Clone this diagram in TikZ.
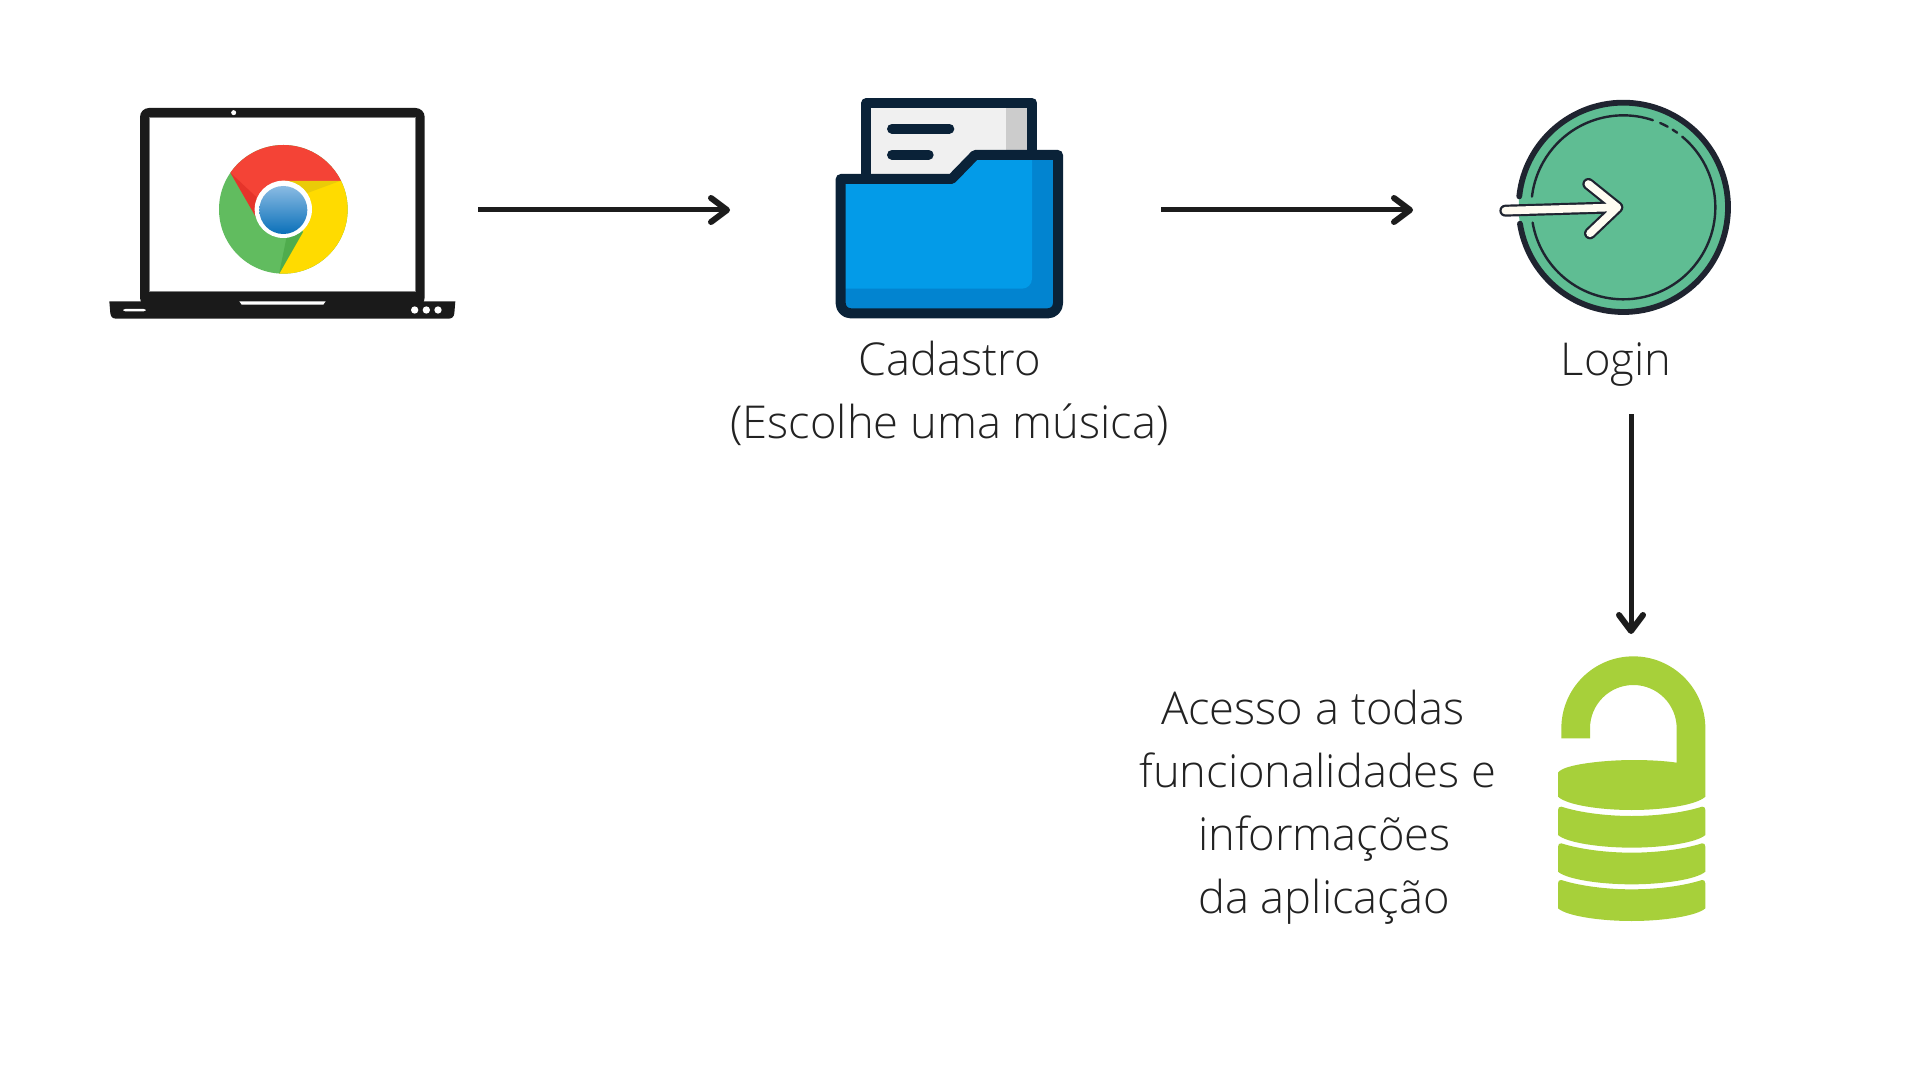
\documentclass[tikz,border=0pt]{standalone}
\usepackage{fontspec}
\usetikzlibrary{arrows.meta}
\setmainfont{Open Sans Light}
\definecolor{inkk}{HTML}{1A1A1A}
\definecolor{arrowk}{HTML}{1C1C1C}
\definecolor{navy}{HTML}{0A2238}
\definecolor{fblue}{HTML}{039BE8}
\definecolor{fdark}{HTML}{0284D0}
\definecolor{lgreen}{HTML}{5FBD93}
\definecolor{ldark}{HTML}{1F2430}
\definecolor{cream}{HTML}{FFFCF2}
\definecolor{lockg}{HTML}{A7D03A}
\definecolor{cred}{HTML}{F44336}
\definecolor{cgreen}{HTML}{61BC5F}
\definecolor{cyellow}{HTML}{FFDB00}
\definecolor{bluetop}{HTML}{8ABBE3}
\definecolor{bluebot}{HTML}{0A70B9}
\definecolor{txt}{HTML}{222222}
\tikzset{
  flow/.style={draw=arrowk,line width=2.5pt,-{Straight Barb[length=8pt,width=12pt,line width=3pt,round]}},
  lab/.style={font=\fontsize{22.65}{31.5}\selectfont,text=txt,align=center,inner sep=0pt},
  zoomA/.style={shift={(90,80)},scale=0.33333},
  zoomB/.style={shift={(810,80)},scale=0.33333},
  zoomC/.style={shift={(1480,80)},scale=0.33333},
  zoomD/.style={shift={(1530,640)},scale=0.33333},
}
\begin{document}
\begin{tikzpicture}[x=0.5pt,y=-0.5pt]
\useasboundingbox (0,0) rectangle (1920,1080);
% laptop
\begin{scope}[zoomA]
\fill[inkk,rounded corners=4.5pt] (150,84) rectangle (1004,680);
\fill[white,draw=black!50,line width=0.6pt] (178,112) rectangle (976,634);
\fill[inkk] (58,664) -- (1096,664) -- (1093,700) .. controls (1092,710) and (1086,716) .. (1076,716) -- (78,716) .. controls (68,716) and (62,710) .. (61,700) -- cycle;
\fill[white] (431,98) circle (7.5);
\fill[white] (448,664) -- (707,664) -- (700,674) -- (455,674) -- cycle;
\fill[white,rounded corners=1pt] (100,687) rectangle (167,694);
\foreach \px in {974,1009,1044} \fill[white] (\px,690) circle (11);
\begin{scope}
\clip (580,388) circle (193);
\fill[cgreen] (380,190) rectangle (780,590);
\fill[cred] (421,278) -- (497,410) -- (580,388) -- (580,303) -- (860,303) -- (860,100) -- (342,100) -- (342,223) -- cycle;
\fill[cyellow] (750,303) -- (580,303) -- (580,388) -- (640,455) -- (567,583) -- (560,700) -- (900,700) -- (900,303) -- cycle;
\fill[red!70!black,opacity=.22] (421,278) -- (497,410) -- (500,352) -- cycle;
\fill[black!70!yellow,opacity=.13] (750,303) -- (590,303) -- (650,340) -- cycle;
\fill[black!60!green,opacity=.18] (567,583) -- (640,455) -- (590,470) -- cycle;
\end{scope}
\fill[white] (580,388) circle (86);
\shade[top color=bluetop,bottom color=bluebot] (580,390) circle (72);
\end{scope}
% folder
\begin{scope}[zoomB]
\fill[fill=black!6] (169,69) rectangle (667,300);
\fill[black!20] (589,69) rectangle (667,300);
\draw[navy,line width=5pt,line join=round] (169,300) -- (169,69) -- (667,69) -- (667,225);
\draw[navy,line width=5pt,line cap=round] (246,146) -- (418,146);
\draw[navy,line width=5pt,line cap=round] (246,224) -- (356,224);
\fill[fdark] (92,297) -- (425,297) -- (495,225) -- (744,225) -- (744,670) arc[start angle=0,end angle=90,radius=30] -- (122,700) arc[start angle=90,end angle=180,radius=30] -- cycle;
\begin{scope}
\clip (92,297) -- (425,297) -- (495,225) -- (744,225) -- (744,700) -- (92,700) -- cycle;
\fill[fblue,rounded corners=5pt] (40,150) rectangle (666,626);
\end{scope}
\draw[navy,line width=5pt,line join=round] (92,297) -- (425,297) -- (495,225) -- (744,225) -- (744,670) arc[start angle=0,end angle=90,radius=30] -- (122,700) arc[start angle=90,end angle=180,radius=30] -- cycle;
\end{scope}
% login
\begin{scope}[zoomC]
\fill[lgreen] (430,382) circle (314);
\draw[ldark,line width=2.9pt,line cap=round] (430,382) ++(186:314) arc[start angle=186,end angle=531,radius=314];
\begin{scope}[ldark,line width=1.2pt,line cap=round]
\draw (430,382) ++(186.7:276) arc[start angle=186.7,end angle=288.7,radius=276];
\draw (430,382) ++(293.6:276) arc[start angle=293.6,end angle=298.8,radius=276];
\draw (430,382) ++(302.4:276) arc[start angle=302.4,end angle=305.8,radius=276];
\draw (430,382) ++(309.8:276) arc[start angle=309.8,end angle=530.4,radius=276];
\end{scope}
\draw[ldark,line width=6pt,line cap=round,line join=round] (76,392) -- (412,382) (325,312) -- (412,382) -- (330,460);
\draw[cream,line width=3.8pt,line cap=round,line join=round] (76,392) -- (412,382) (325,312) -- (412,382) -- (330,460);
\end{scope}
% lock
\begin{scope}[zoomD]
\fill[lockg] (94,295) -- (94,265) arc[start angle=180,end angle=360,radius=216] -- (526,470) .. controls (500,495) and (400,510) .. (305,510) .. controls (210,510) and (110,495) .. (84,470) -- (84,398) .. controls (100,372) and (230,360) .. (310,360) .. controls (350,360) and (400,362) .. (440,368) -- (440,265) arc[start angle=360,end angle=180,radius=130] -- (180,295) -- cycle;
\foreach \dy in {0,110,220}
  \fill[lockg] (84,\dy+510) .. controls (84,\dy+503) and (88,\dy+499) .. (94,\dy+500) .. controls (150,\dy+518) and (230,\dy+528) .. (305,\dy+528) .. controls (380,\dy+528) and (460,\dy+518) .. (516,\dy+500) .. controls (522,\dy+499) and (526,\dy+503) .. (526,\dy+510) -- (526,\dy+585) .. controls (500,\dy+608) and (400,\dy+623) .. (305,\dy+623) .. controls (210,\dy+623) and (110,\dy+608) .. (84,\dy+585) -- cycle;
\end{scope}
% connectors
\coordinate (a1) at (478,210); \coordinate (a2) at (730,210);
\coordinate (b1) at (1161,210); \coordinate (b2) at (1413,210);
\coordinate (c1) at (1631,414); \coordinate (c2) at (1631,634);
\draw[flow] (a1) -- (a2);
\draw[flow] (b1) -- (b2);
\draw[flow] (c1) -- (c2);
% labels
\node[lab,anchor=base] (cad) at (949.5,375.5) {Cadastro};
\node[lab,anchor=base] (esc) at (949.5,438.5) {(Escolhe uma música)};
\node[lab,anchor=base] (log) at (1616,375.5) {Login};
\node[lab,anchor=base] (ac1) at (1313,724.5) {Acesso a todas};
\node[lab,anchor=base] (ac2) at (1318,787.5) {funcionalidades e};
\node[lab,anchor=base] (ac3) at (1324.5,850.5) {informações};
\node[lab,anchor=base] (ac4) at (1324,913.5) {da aplicação};
\end{tikzpicture}
\end{document}
